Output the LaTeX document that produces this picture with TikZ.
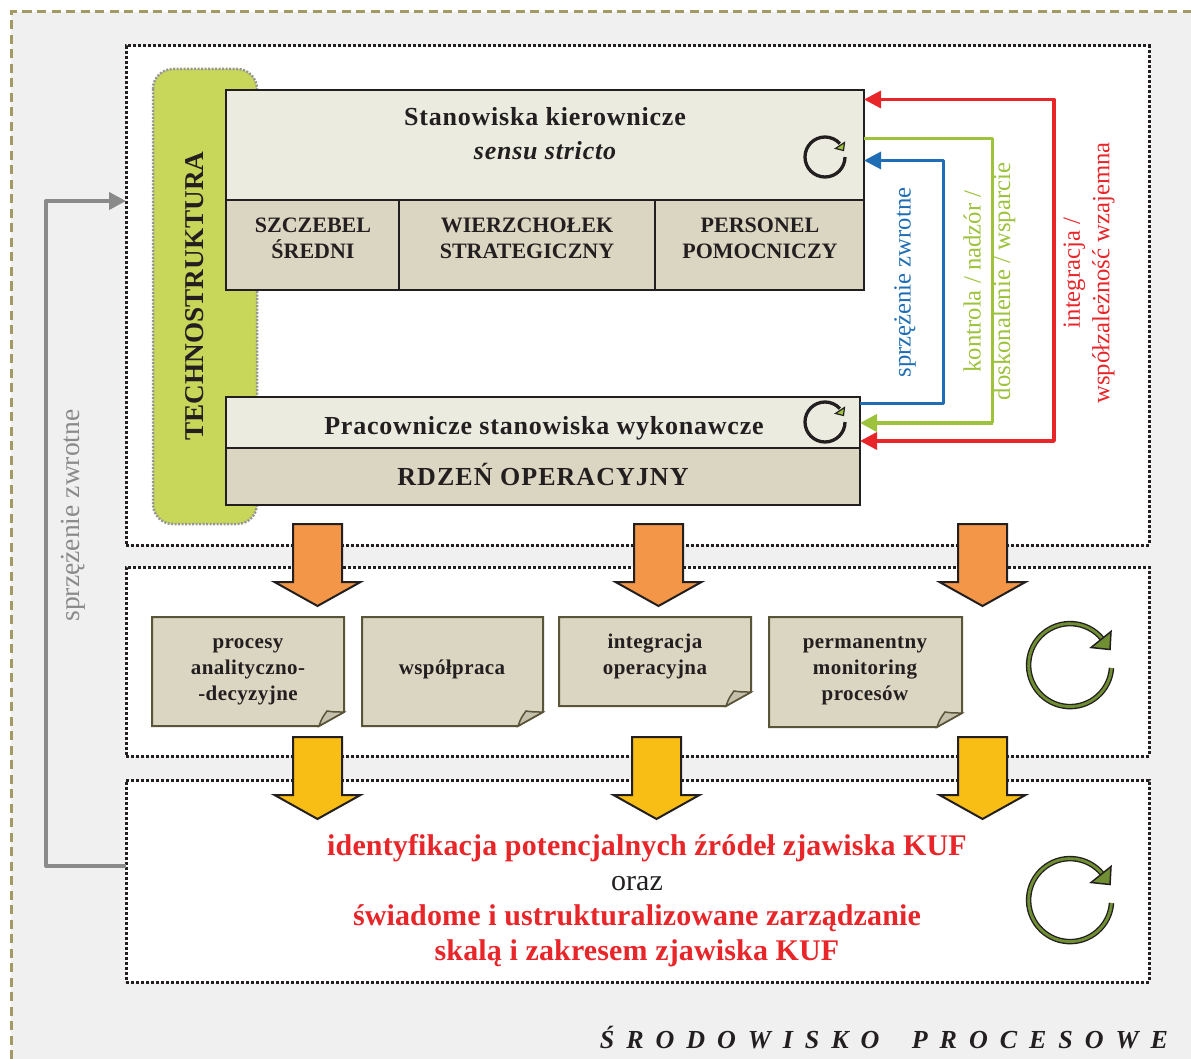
\documentclass[tikz,border=0pt]{standalone}
\usepackage{fontspec}
\setmainfont{Liberation Serif}
\usetikzlibrary{arrows.meta,calc}
\definecolor{bggray}{HTML}{F0F0F0}
\definecolor{dashol}{HTML}{A39A63}
\definecolor{lightbox}{HTML}{EBEBE0}
\definecolor{tanbox}{HTML}{DBD6C2}
\definecolor{noteline}{HTML}{5A5438}
\definecolor{foldc}{HTML}{C4C0AC}
\definecolor{techno}{HTML}{C8D65A}
\definecolor{myred}{HTML}{E8262A}
\definecolor{mygreen}{HTML}{9DC23B}
\definecolor{myblue}{HTML}{1F6EB5}
\definecolor{mygray}{HTML}{8A8A8A}
\definecolor{myorange}{HTML}{F39647}
\definecolor{myyellow}{HTML}{F8BE16}
\definecolor{loopgreen}{HTML}{6F8F32}
\definecolor{ink}{HTML}{231F20}
\tikzset{
 every node/.style={inner sep=0pt,outer sep=0pt,text=ink},
 dotbox/.style={draw=ink,fill=white,line width=3pt,dash pattern=on 3pt off 2pt,anchor=north west},
 blockbox/.style={draw=ink,line width=2pt,anchor=north west},
 headfont/.style={font=\fontsize{26}{34}\selectfont\bfseries\addfontfeature{LetterSpace=3},align=center},
 capfont/.style={font=\fontsize{22}{26}\selectfont\bfseries,align=center},
 notefont/.style={font=\fontsize{21}{26}\selectfont\bfseries\addfontfeature{LetterSpace=2},align=center},
 redfont/.style={font=\fontsize{30}{35}\selectfont\bfseries\addfontfeature{LetterSpace=0.5},text=myred,align=center},
 sidefont/.style={font=\fontsize{24.7}{29.5}\selectfont,rotate=90,align=center},
 lnk/.style={line width=3pt,line join=round},
 headtip/.style={-{Triangle[length=17pt,width=17pt]}},
 bigarrow/.style={draw=ink,line width=2pt,line join=miter},
 notepaper/.style={draw=noteline,fill=tanbox,line width=2pt},
}
% centre x, top y, colour
\newcommand{\blockarrow}[3]{%
 \draw[bigarrow,fill=#3] ({#1-24.5},#2)--({#1+24.5},#2)--({#1+24.5},{#2+58})--({#1+43},{#2+58})--(#1,{#2+82})--({#1-43},{#2+58})--({#1-24.5},{#2+58})--cycle;}
% left, top, right, bottom
\newcommand{\notepaper}[4]{%
 \draw[notepaper] (#1,#2)--(#3,#2)--(#3,{#4-14})--({#3-25},#4)--(#1,#4)--cycle;
 \draw[noteline,fill=foldc,line width=1.5pt] ({#3-25},#4) .. controls ({#3-22},{#4-8}) .. ({#3-17},{#4-15}) .. controls ({#3-10},{#4-14}) .. (#3,{#4-14})--cycle;}
% small loop: cx cy
\newcommand{\smallloop}[2]{%
 \draw[ink,line width=3.3pt] ({#1+20},#2) arc[start angle=0,end angle=318,radius=20];
 \draw[ink,fill=mygreen,line width=1.2pt,line join=miter] ({#1+19.5},{#2-14.5})--({#1+10.5},{#2-8.5})--({#1+18.5},{#2-6.5})--cycle;}
% large loop: cx cy
\newcommand{\bigloop}[2]{%
 \draw[ink,line width=5.5pt] ({#1+41.5},{#2+3}) arc[start angle=4,end angle=320,radius=41.5];
 \draw[loopgreen,line width=2.8pt] ({#1+41.5},{#2+3}) arc[start angle=4,end angle=320,radius=41.5];
 \draw[ink,fill=loopgreen,line width=1.5pt,line join=miter] ({#1+41},{#2-33.5})--({#1+21},{#2-17.5})--({#1+40},{#2-15.5})--cycle;}
\begin{document}
\begin{tikzpicture}[x=1pt,y=-1pt]
\useasboundingbox (0,0) rectangle (1191,1059);
\fill[white] (0,0) rectangle (1191,1059);
\fill[bggray] (11,12) rectangle (1191,1059);
\draw[dashol,line width=3pt,dash pattern=on 9pt off 5.5pt] (11,1059)--(11,12)--(1191,12);
% process boxes
\node[dotbox,minimum width=1023pt,minimum height=499pt] (boxA) at (126,46) {};
\node[dotbox,minimum width=1023pt,minimum height=189pt] (boxB) at (126,567) {};
\node[dotbox,minimum width=1023pt,minimum height=202pt] (boxC) at (126,780) {};
% technostructure
\fill[techno,draw=mygray!90,line width=2.5pt,dash pattern=on 2pt off 1.5pt,rounded corners=20pt] (153,69) rectangle (257,524);
\node[font=\fontsize{27.2}{30}\selectfont\bfseries,rotate=90] (tech) at (195,296) {TECHNOSTRUKTURA};
% upper block
\node[blockbox,fill=lightbox,minimum width=638pt,minimum height=110pt] (top) at (226,90) {};
\node[blockbox,fill=tanbox,minimum width=173pt,minimum height=90pt] (sz) at (226,200) {};
\node[blockbox,fill=tanbox,minimum width=256pt,minimum height=90pt] (wi) at (399,200) {};
\node[blockbox,fill=tanbox,minimum width=209pt,minimum height=90pt] (pe) at (655,200) {};
\node[headfont] (t1) at (545,134) {Stanowiska kierownicze\\[0pt]\itshape sensu stricto};
\node[capfont] (t2) at (313,238) {SZCZEBEL\\ŚREDNI};
\node[capfont] (t3) at (527,238) {WIERZCHOŁEK\\STRATEGICZNY};
\node[capfont] (t4) at (760,238) {PERSONEL\\POMOCNICZY};
% lower block
\node[blockbox,fill=lightbox,minimum width=634pt,minimum height=51pt] (low) at (226,397) {};
\node[blockbox,fill=tanbox,minimum width=634pt,minimum height=57pt] (core) at (226,448) {};
\node[headfont] (t5) at (544,428) {Pracownicze stanowiska wykonawcze};
\node[font=\fontsize{26}{30}\selectfont\bfseries\addfontfeature{LetterSpace=4}] (t6) at (543,474) {RDZEŃ OPERACYJNY};
\smallloop{825}{157}
\smallloop{825}{422}
% connectors
\coordinate (rA) at (1054,441); \coordinate (rB) at (1054,99.5);
\coordinate (gA) at (992.5,139); \coordinate (gB) at (992.5,423);
\coordinate (bA) at (943.5,403.5); \coordinate (bB) at (943.5,160.5);
\draw[lnk,myred,line width=3.4pt,{Triangle[length=17pt,width=17pt]}-{Triangle[length=17pt,width=17pt]}] (low.east |- rA)--(rA)--(rB)--(top.east |- rB);
\draw[lnk,mygreen] (top.east |- gA)--(gA)--(gB);
\draw[lnk,mygreen,line width=4.2pt,headtip] (gB)--(low.east |- gB);
\draw[lnk,myblue,headtip] (low.east |- bA)--(bA)--(bB)--(top.east |- bB);
\coordinate (gyA) at (46,866); \coordinate (gyB) at (46,201);
\draw[lnk,mygray,line width=4pt,headtip] (boxC.west |- gyA)--(gyA)--(gyB)--(boxA.west |- gyB);
% rotated labels
\node[sidefont,font=\fontsize{27.6}{30}\selectfont,text=mygray] (l1) at (73,515.5) {sprzężenie zwrotne};
\node[sidefont,text=myblue] (l2) at (905,282.5) {sprzężenie zwrotne};
\node[sidefont,text=mygreen] (l3) at (989.5,281.5) {kontrola / nadzór /\\doskonalenie / wsparcie};
\node[sidefont,text=myred] (l4) at (1089,273) {integracja /\\współzależność wzajemna};
% block arrows
\blockarrow{317.5}{524}{myorange}
\blockarrow{658.5}{524}{myorange}
\blockarrow{982.5}{524}{myorange}
\blockarrow{317.5}{737}{myyellow}
\blockarrow{656.5}{737}{myyellow}
\blockarrow{982.5}{737}{myyellow}
% notes
\notepaper{152}{617}{344}{726}
\notepaper{362}{617}{543}{726}
\notepaper{559}{617}{751}{706}
\notepaper{769}{617}{962}{727}
\node[notefont] (n1) at (248,672) {procesy\\analityczno-\\-decyzyjne};
\node[notefont] (n2) at (452,669) {współpraca};
\node[notefont] (n3) at (655,656) {integracja\\operacyjna};
\node[notefont] (n4) at (865,671) {permanentny\\monitoring\\procesów};
\bigloop{1070}{665}
\bigloop{1070}{900}
% results
\node[redfont] (r1) at (647,848) {identyfikacja potencjalnych źródeł zjawiska KUF};
\node[font=\fontsize{30}{30}\selectfont] (r2) at (637,884) {oraz};
\node[redfont] (r3) at (637,936) {świadome i ustrukturalizowane zarządzanie\\skalą i zakresem zjawiska KUF};
\node[font=\fontsize{26}{30}\selectfont\bfseries\itshape\addfontfeature{LetterSpace=46},anchor=east] (env) at (1168,1038) {ŚRODOWISKO\hspace{14pt} PROCESOWE};
\end{tikzpicture}
\end{document}
